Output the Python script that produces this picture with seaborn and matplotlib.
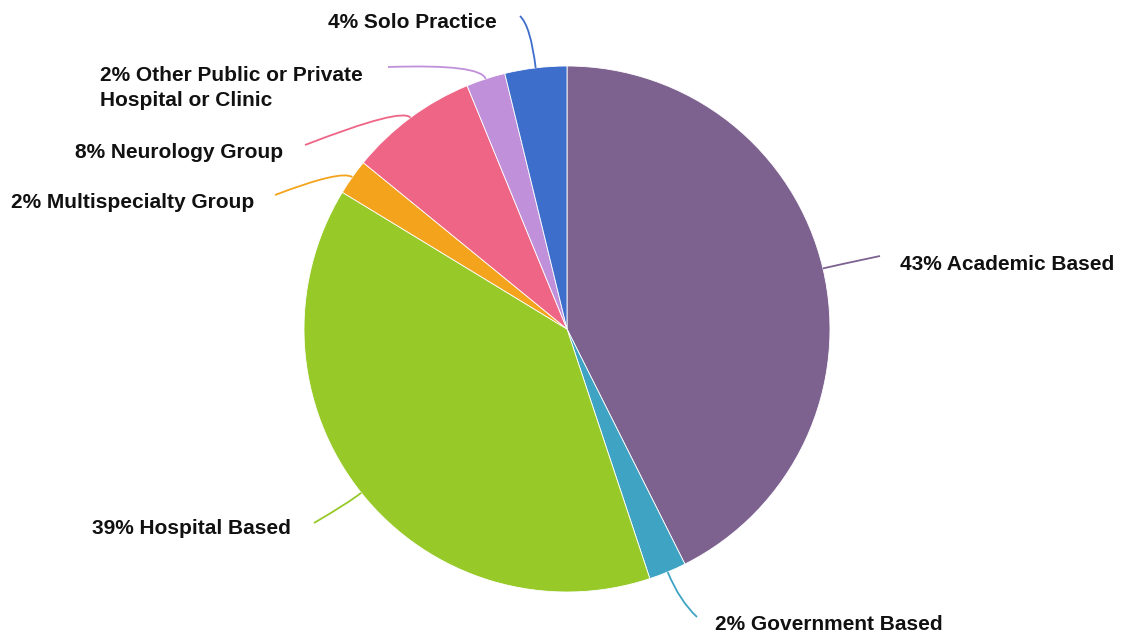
import matplotlib.pyplot as plt
import seaborn as sns
import numpy as np
from matplotlib.path import Path
from matplotlib.patches import PathPatch

# slice data, read clockwise from 12 o'clock
labels = ['Academic Based', 'Government Based', 'Hospital Based', 'Multispecialty Group',
          'Neurology Group', 'Other Public or Private\nHospital or Clinic', 'Solo Practice']
values = [42.6, 2.3, 38.8, 2.2, 7.9, 2.4, 3.8]
pct_text = ['43%', '2%', '39%', '2%', '8%', '2%', '4%']
colors = ['#7D6290', '#3FA4C3', '#97C928', '#F4A31D', '#EF6585', '#C090DA', '#3E6ECC']

W, H = 1126, 637
CX, CY, R = 567, 329, 263   # pie centre / radius in pixels from top-left

# label layout (pixels from top-left): text anchor, alignment, leader end, bend factor
text_pos = [(900, 265), (715, 625), (291, 529), (254, 202), (283, 152), (100, 88), (497, 22)]
text_ha = ['left', 'left', 'right', 'right', 'right', 'left', 'right']
line_end = [(880, 256), (697, 617), (314, 523), (275, 195), (305, 145), (388, 67), (520, 16)]
bend = [1.05, 1.12, 1.06, 1.05, 1.05, 1.06, 1.16]

sns.set_theme(style='white')
plt.rcParams['font.family'] = ['Liberation Sans', 'DejaVu Sans']

fig = plt.figure(figsize=(W / 100, H / 100), dpi=100)
ax = fig.add_axes([0, 0, 1, 1])

wedges, _ = ax.pie(values, colors=colors, startangle=90, counterclock=False,
                   center=(CX, H - CY), radius=R,
                   wedgeprops=dict(edgecolor='white', linewidth=0.6))
ax.set_xlim(0, W)
ax.set_ylim(0, H)
ax.set_aspect('equal')
ax.axis('off')

for i, w in enumerate(wedges):
    ang = np.deg2rad((w.theta1 + w.theta2) / 2)
    p0 = (CX + R * np.cos(ang), H - CY + R * np.sin(ang))
    pc = (CX + R * bend[i] * np.cos(ang), H - CY + R * bend[i] * np.sin(ang))
    ex, ey = line_end[i]
    path = Path([p0, pc, (ex, H - ey)], [Path.MOVETO, Path.CURVE3, Path.CURVE3])
    ax.add_patch(PathPatch(path, facecolor='none', edgecolor=colors[i], lw=1.3))
    tx, ty = text_pos[i]
    ax.text(tx, H - ty, f'{pct_text[i]} {labels[i]}', ha=text_ha[i], va='center',
            fontsize=15, fontweight='bold', color='#111111', linespacing=1.45)

fig.savefig('out.png', dpi=100)
